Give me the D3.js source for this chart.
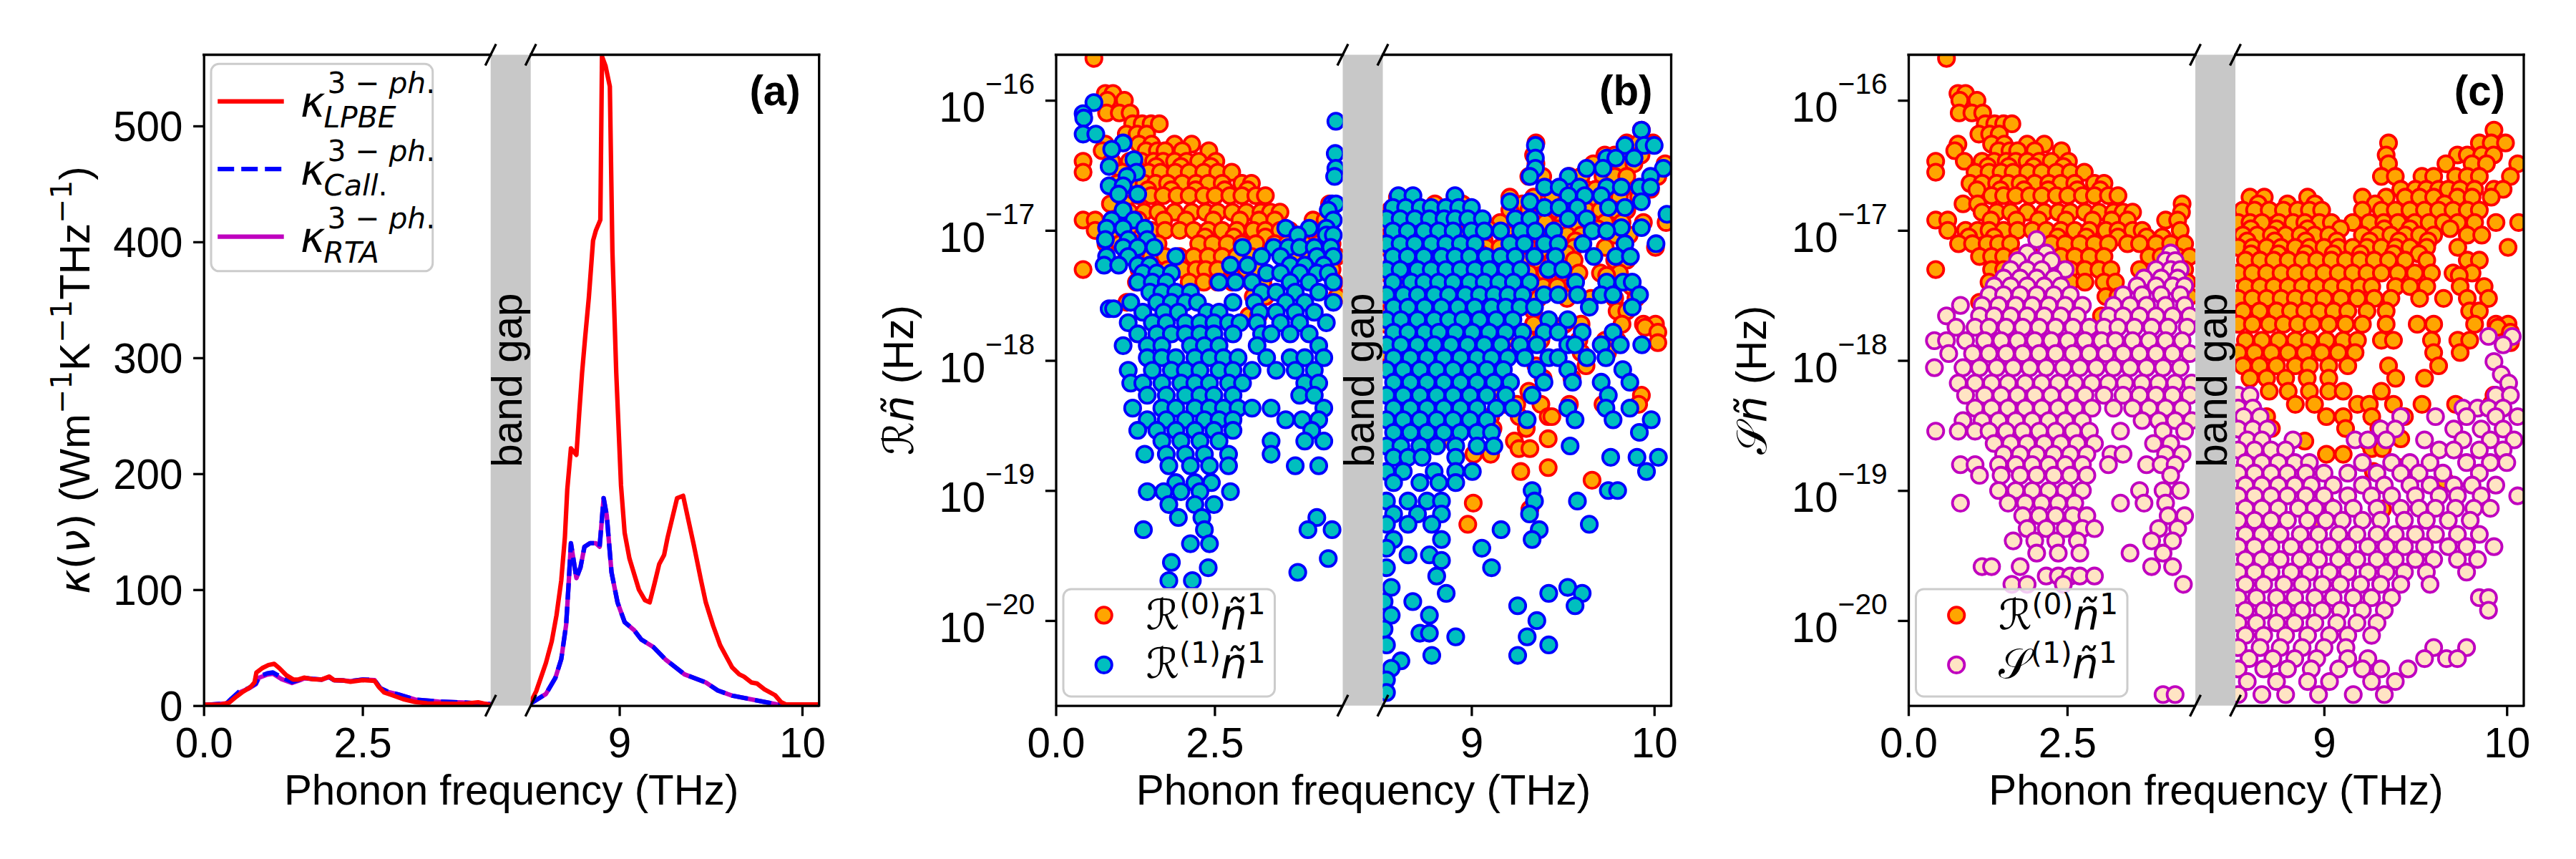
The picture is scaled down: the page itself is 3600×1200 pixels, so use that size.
<!DOCTYPE html>
<html><head><meta charset="utf-8">
<script src="https://cdn.jsdelivr.net/npm/d3@7"></script>
<style>body{margin:0;background:#fff}svg{display:block}</style>
</head><body>
<svg id="fig" width="3600" height="1200"></svg>
<script>
// ---------------- DATA ----------------
// panel (a): spectral thermal conductivity [frequency THz, kappa]
const kLPBE = [[0,0.8],[0.28,1.0],[0.40,2.5],[0.51,7.6],[0.60,11.3],[0.735,15.9],[0.80,20],[0.83,28.6],[0.92,32.3],[1.02,35],[1.11,36],[1.19,32.3],[1.30,26.2],[1.41,22.5],[1.49,22.5],[1.58,24.1],[1.71,22.8],[1.86,22.5],[1.975,25.1],[2.05,22],[2.2,21.6],[2.31,20.6],[2.5,22],[2.69,21.4],[2.76,15.9],[2.84,11.3],[2.95,9.3],[3.14,5.6],[3.33,3.1],[3.52,1.9],[4.08,1.5],[4.32,2.9],[4.47,1.0],[4.55,0.5],
 [8.506,0],[8.545,12.4],[8.598,36.7],[8.630,55.4],[8.656,77.9],[8.682,107.8],[8.702,145.3],[8.715,186.4],[8.735,221.9],[8.765,216.3],[8.781,253.7],[8.796,287],[8.813,318],[8.833,352],[8.856,401],[8.872,410],[8.896,419],[8.905,560],[8.924,552],[8.948,534],[8.962,392],[8.983,287],[9.009,190],[9.029,149],[9.055,127],[9.107,100],[9.140,91],[9.166,89],[9.192,105],[9.218,122],[9.245,130],[9.264,145],[9.316,179],[9.349,181],[9.375,162],[9.408,138],[9.447,108],[9.473,89],[9.513,69],[9.552,52],[9.617,33],[9.656,27],[9.682,25],[9.722,20],[9.754,19],[9.794,14],[9.852,9],[9.885,3],[9.911,1],[10.1,1]];
const kCall = [[0,0.5],[0.36,1.9],[0.435,6],[0.55,11.7],[0.70,14.8],[0.82,19],[0.87,25.1],[1.0,27.8],[1.09,28.6],[1.22,24.5],[1.39,20.4],[1.52,22.5],[1.58,24],[1.71,23],[1.86,22.5],[1.975,24.5],[2.05,22],[2.2,21.6],[2.31,21],[2.5,22.5],[2.69,22],[2.78,15],[2.91,11.7],[3.06,9.7],[3.33,5.2],[3.70,3.5],[4.08,2.7],[4.45,1.5],[4.55,1.2],
 [8.506,1],[8.598,10],[8.650,24],[8.682,40],[8.709,70],[8.722,104],[8.735,140],[8.765,110],[8.787,119],[8.809,137],[8.839,140],[8.872,140],[8.892,137],[8.914,179],[8.931,164],[8.957,115],[8.990,89],[9.029,72],[9.081,65],[9.120,57],[9.186,50.5],[9.251,40],[9.356,27],[9.473,20],[9.539,13],[9.617,8.6],[9.735,5],[9.865,1],[10.1,0.3]];
const kRTA = [[0,0.5],[0.36,1.9],[0.44,5.5],[0.55,11],[0.70,14.5],[0.82,18.5],[0.87,24],[1.0,26.8],[1.09,27.5],[1.22,23],[1.39,19.5],[1.52,22],[1.58,23.5],[1.71,23],[1.86,22.5],[1.975,24.5],[2.05,22],[2.2,21.6],[2.31,21],[2.5,22.5],[2.69,22],[2.78,15],[2.91,11.7],[3.06,9.7],[3.33,5.2],[3.70,3.5],[4.08,2.7],[4.45,1.5],[4.55,1.2],
 [8.506,1],[8.598,10],[8.650,24],[8.682,40],[8.709,70],[8.722,104],[8.735,140],[8.765,110],[8.787,119],[8.809,137],[8.839,140],[8.872,140],[8.892,137],[8.914,179],[8.931,164],[8.957,115],[8.990,89],[9.029,72],[9.081,65],[9.120,57],[9.186,50.5],[9.251,40],[9.356,27],[9.473,20],[9.539,13],[9.617,8.6],[9.735,5],[9.865,1],[10.1,0.3]];

// panels (b),(c): scattering rates, rows of [value Hz, [frequencies THz]]
const R0 = [
[2.1e-16,[0.60]],[1.13e-16,[0.78,0.90]],[1.0e-16,[0.81,1.08]],[8.0e-17,[0.80,1.00,1.17]],[6.6e-17,[1.21,1.36,1.50,1.63]],[5.5e-17,[1.11,1.28,1.43]],
[5.9e-17,[9.93]],[4.7e-17,[9.353,9.85,9.915,9.993]],[4.6e-17,[0.78,1.31,1.51,1.87,2.14]],[4.1e-17,[0.73,1.42,1.60,1.72,1.99,2.41]],
[3.8e-17,[9.34,9.73,9.784,9.863,9.928]],[3.4e-17,[0.43,0.88,1.16,1.35,1.54,1.69,1.87,2.06,2.25,2.52]],[3.25e-17,[9.353,9.667,9.81,9.889,10.06]],
[3.1e-17,[1.25,1.58,1.97,2.44]],
[2.8e-17,[0.43,1.05,1.27,1.46,1.65,1.88,2.10,2.33,2.55,2.77]],[2.6e-17,[9.314,9.39,9.536,9.60,9.72,9.784,9.85,10.02]],
[2.3e-17,[0.97,1.16,1.39,1.57,1.76,1.99,2.21,2.40,2.62,2.93,3.08]],[2.07e-17,[9.42,9.50,9.56,9.627,9.68,9.745,9.824,9.93,9.98]],
[2.05e-17,[1.08,1.45,1.82,2.20,2.66,3.02]],
[1.85e-17,[1.31,1.50,1.69,1.91,2.10,2.33,2.51,2.74,2.93,3.15,3.30]],[1.8e-17,[8.595,8.673,8.91,9.21,9.34,9.444,9.523,9.60,9.73,9.81,9.915]],
[1.6e-17,[0.86,1.09,4.31,8.64,8.80,8.95,9.28,9.66]],[1.43e-17,[8.556,8.62,8.70,8.778,8.856,8.92,8.987,9.21,9.314,9.39,9.47,9.55,9.627,9.706,9.784,9.85]],
[1.38e-17,[1.16,1.39,1.61,1.87,2.14,2.36,2.55,2.78,3.00,3.23,3.38,3.53,4.30]],[1.2e-17,[0.43,0.62,1.30,1.70,2.05,2.48,2.90,3.20,3.45,4.05,4.24]],
[1.15e-17,[8.53,8.595,8.66,8.752,8.83,8.895,8.974,9.04,9.157,9.248,9.327,9.405,9.497,9.575,9.654,9.732,9.824,9.941,10.065]],
[1.03e-17,[8.60,8.74,8.91,9.09,9.33,9.47,9.69]],
[1.0e-17,[0.62,0.90,1.09,1.27,1.50,1.72,1.95,2.17,2.40,2.62,2.85,3.11,3.30,3.53,3.68,4.28]],
[9.2e-18,[8.556,8.634,8.712,8.79,8.87,8.948,9.026,9.21,9.29,9.366,9.444,9.523,9.60,9.784,9.863]],
[8.9e-18,[0.95,1.35,2.35,2.80,3.30,3.75,4.0]],
[8.3e-18,[8.58,8.73,8.90,9.07,9.25,9.41,9.57]],
[7.9e-18,[0.79,1.01,1.24,1.42,1.61,2.25,2.47,2.70,2.93,3.15,3.45,3.64,3.90,4.13,4.35]],
[7.4e-18,[8.53,8.608,8.686,8.765,8.843,8.92,9.0,9.078,9.157,9.235,9.314,9.392,9.47,9.562,9.732,10.007]],
[6.6e-18,[8.60,8.75,8.90,9.05,9.20,9.38,9.52]],
[6.3e-18,[1.12,1.31,1.50,1.72,1.95,2.17,2.40,2.62,2.85,3.08,3.79,3.98,4.24,4.43]],
[5.9e-18,[8.57,8.65,8.725,8.804,8.882,8.96,9.04,9.118,9.196,9.275,9.353,9.444,9.562,9.784,9.85]],
[5.0e-18,[0.43,1.31,1.50,1.76,1.99,2.21,2.36,2.55,2.78,3.00,3.19,3.64,4.35]],
[4.7e-18,[8.53,8.608,8.686,8.765,8.843,8.92,9.0,9.078,9.157,9.235,9.314,9.405,9.497,9.588,9.706,9.81]],
[4.5e-18,[9.74]],[4.0e-18,[1.27,2.10,2.33,2.55,2.78,3.08,3.26,4.39]],
[3.7e-18,[8.57,8.65,8.725,8.804,8.882,8.96,9.04,9.118,9.196,9.261,9.392,9.47,9.562,9.745,9.876]],[3.1e-18,[3.11,3.30,4.43]],
[3.0e-18,[8.53,8.608,8.686,8.765,8.843,8.92,9.0,9.092,9.183,9.275,9.366,9.523,9.654,9.784,9.90]],[2.8e-18,[1.12]],
[2.4e-18,[8.556,8.647,8.74,8.817,8.895,8.974,9.052,9.13,9.235,9.34,9.797,9.85]],[2.2e-18,[3.04,3.19]],
[1.9e-18,[8.53,8.608,8.70,8.778,8.856,8.935,9.026,9.118,9.21,9.34,9.51,9.60,9.824,9.941,10.007]],[1.8e-18,[9.95]],[1.65e-18,[10.02]],
[1.43e-18,[8.57,8.66,8.752,8.843,8.92,9.013,9.105,9.183,9.314,9.38,9.588,9.732,9.797]],[1.37e-18,[10.02]],
[1.15e-18,[8.53,8.62,8.712,8.804,8.895,8.987,9.078,9.17,9.60,9.745]],[9.1e-19,[8.556,8.647,8.74,8.843,8.92,9.026,9.13,9.353,9.627]],
[7.3e-19,[8.595,8.686,8.79,8.908,9.026,9.392,9.55]],[5.8e-19,[8.70,8.804,8.92,9.026,9.105,9.314]],[5.4e-19,[9.93]],
[4.6e-19,[8.843,8.948,9.183,9.248,9.38,9.536,9.72,9.915]],[3.7e-19,[8.686,9.013,9.105,9.261,9.42,9.44]],[3.0e-19,[8.712,9.118,9.30]],
[2.5e-19,[9.42]],[2.4e-19,[8.895,9.235]],[2.1e-19,[9.26,9.32]],[1.9e-19,[9.013,9.105]],[1.5e-19,[9.42]],[1.4e-19,[9.27]],[1.2e-19,[9.66]],
[8.0e-20,[9.01]],[7.2e-20,[9.32]],[5.5e-20,[8.98]]];

const R1 = [
[9.6e-17,[0.60]],[7.9e-17,[0.43]],[7.3e-17,[0.44]],[6.9e-17,[4.41]],[5.9e-17,[9.93]],[5.5e-17,[0.43,0.63]],[4.7e-17,[1.06]],
[4.5e-17,[9.35,9.84,9.945,10.0]],[4.2e-17,[0.88]],[3.9e-17,[4.40]],[3.6e-17,[9.35,9.74,9.79,9.89]],[3.5e-17,[1.23]],[3.1e-17,[0.84]],
[3.0e-17,[4.41,9.35,9.63,9.72,10.05]],[2.8e-17,[1.27]],[2.6e-17,[1.12,4.39,9.32,9.53,9.98]],[2.2e-17,[0.84,1.06]],
[2.15e-17,[9.40,9.48,9.59,9.74,9.82,9.92,9.98]],[1.9e-17,[0.99,1.29]],[1.85e-17,[8.60,8.68,8.91,9.53,9.62,9.71]],
[1.66e-17,[9.21,9.32,9.93]],[1.6e-17,[4.35,4.41]],[1.5e-17,[8.57,8.64,8.72,8.78,8.86,8.93,9.0,9.40,9.48,9.58,9.75,9.84]],
[1.43e-17,[1.06,4.29]],[1.33e-17,[10.07]],[1.23e-17,[8.535,8.61,8.69,8.77,8.85,8.91,8.98,9.06,9.24,9.32,9.53,9.63]],
[1.2e-17,[0.88,1.23,4.37]],[1.05e-17,[9.82,9.93]],[1.04e-17,[0.80,1.06,1.40,3.62,3.99,4.26]],
[9.9e-18,[8.57,8.65,8.74,8.82,8.90,9.0,9.07,9.16,9.27,9.35,9.45,9.66,9.74]],[9.2e-18,[3.81,4.26,4.37]],[8.5e-18,[0.78,1.14,1.44]],
[7.9e-18,[8.535,8.61,8.69,8.78,8.86,8.94,9.02,9.21,9.29,9.40,9.475,9.61,9.84,10.01]],
[7.4e-18,[1.06,1.29,1.55,2.94,3.43,3.66,3.84,4.07,4.33]],
[6.3e-18,[0.80,1.14,1.89,3.24,3.54,4.11,4.37,8.57,8.65,8.74,8.836,8.91,8.99,9.08,9.16,9.24,9.345,9.46,9.67,9.79,9.87]],
[5.4e-18,[0.76,0.99,1.29,1.48,2.75,3.02,3.69,3.92,4.22]],
[5.0e-18,[8.535,8.61,8.705,8.78,8.86,8.94,9.02,9.10,9.19,9.27,9.42,9.50]],
[4.7e-18,[1.37,1.59,1.82,3.32,3.54,3.84,4.11,4.29]],
[4.0e-18,[1.29,1.52,1.74,2.57,2.83,3.09,3.69,3.99,4.37,8.57,8.67,8.74,8.82,8.90,8.99,9.07,9.15,9.23,9.32,9.57,9.74,9.83,9.88]],
[3.35e-18,[1.48,1.67,1.89,2.12,3.24,3.47,3.77,4.14]],
[3.2e-18,[8.535,8.627,8.705,8.796,8.875,8.966,9.044,9.123,9.20,9.28,9.397,9.475,9.58,9.71,9.775,9.92]],
[2.8e-18,[1.18,1.59,1.82,2.04,2.23,2.79,3.13,3.62,3.92,4.37]],
[2.57e-18,[8.574,8.653,8.744,8.836,8.927,9.018,9.11,9.188,9.266,9.345,9.645,9.88]],[2.5e-18,[0.84,0.91]],
[2.35e-18,[1.37,1.70,1.93,2.38,2.57,3.21,3.47,3.77,4.07]],
[2.06e-18,[8.535,8.614,8.705,8.796,8.875,8.953,9.044,9.136,9.227,9.423,9.527]],
[1.95e-18,[1.14,1.52,1.74,2.04,2.27,2.49,2.72,2.90,3.17,3.54,3.84,4.26]],
[1.65e-18,[8.574,8.653,8.744,8.822,8.914,9.005,9.097,9.188,9.28,9.397,9.475,9.606,9.775]],
[1.6e-18,[1.29,1.59,1.82,2.04,2.27,2.49,2.79,3.24,3.39,3.69,3.99]],
[1.32e-18,[8.535,8.614,8.705,8.796,8.888,8.979,9.07,9.162,9.266,9.358,9.527,9.567,9.71,9.815,9.932]],
[1.3e-18,[1.06,1.44,1.67,2.12,2.34,2.57,3.17,4.14]],
[1.05e-18,[1.44,1.67,1.89,2.19,2.42,2.64,2.87,3.32,3.69,3.92,4.22,8.574,8.666,8.757,8.849,8.94,9.031,9.11,9.20,9.292,9.423,9.475,9.632,9.736]],
[8.5e-19,[8.535,8.627,8.718,8.81,8.90,8.992,9.084,9.175,9.358,9.527,9.828]],
[8.4e-19,[1.14,1.52,1.82,2.04,2.27,2.57,2.79,3.09,3.47,3.77,4.07]],
[6.8e-19,[8.574,8.666,8.757,8.849,8.94,9.031,9.123,9.214,9.397,9.553,9.71,9.867]],
[6.7e-19,[1.18,1.37,1.67,1.97,2.19,2.42,2.72,2.94,3.92,4.14]],
[5.4e-19,[1.44,1.74,2.04,2.27,2.49,2.79,3.84,4.07,8.535,8.627,8.718,8.81,8.90,8.992,9.084,9.188,9.332,9.749]],
[4.3e-19,[1.21,1.67,1.89,2.19,2.42,2.64,2.87,3.09,3.39,4.22,8.574,8.666,8.757,8.849,8.94,9.031,9.136,9.227,9.527,9.736,9.867]],
[3.5e-19,[1.44,1.74,2.04,2.34,2.57,2.79,3.62,3.88,4.14,8.535,8.627,8.718,8.81,8.90,8.992,9.084,9.305,9.567,9.775,9.984]],
[2.9e-19,[1.29,1.59,1.89,2.19,2.49,2.79,4.03]],[2.8e-19,[8.574,8.666,8.757,8.849,8.94,9.031,9.11,9.919]],
[2.4e-19,[1.67,1.97,2.27,2.57,3.39,3.92,4.22]],[2.2e-19,[8.535,8.614,8.718,8.81,8.914,9.031,9.123,9.54]],
[1.9e-19,[1.40,1.74,2.04,2.34,2.72,3.39]],[1.8e-19,[8.574,8.653,8.73,8.914,9.762,9.906,10.023]],
[1.55e-19,[1.78,2.12,2.42,2.72,3.77,4.14]],[1.4e-19,[8.535,8.627,8.796,8.914,9.005,9.958]],
[1.15e-19,[1.89,2.19,2.45,8.574,8.718,8.822,8.914]],[1.0e-19,[9.332,9.749,9.80]],[9.8e-20,[1.44,1.70,1.97,2.27,2.75]],
[8.3e-20,[8.535,8.653,8.757,8.836,9.345,9.58]],[7.8e-20,[1.78,2.19,2.49]],[6.6e-20,[8.574,8.705,8.836,9.318]],
[6.2e-20,[1.93,2.30,4.11]],[5.5e-20,[8.535,8.653,8.783,9.645]],[5.0e-20,[1.38,2.34,3.97,4.35,9.162,9.371]],
[4.2e-20,[8.574,8.836,9.332]],[3.9e-20,[2.12,2.42]],[3.6e-20,[8.535,9.057]],[3.2e-20,[8.653,8.77]],[3.0e-20,[4.29]],
[2.9e-20,[8.836]],[2.8e-20,[1.82]],[2.55e-20,[2.40,8.535,9.11]],[2.35e-20,[3.81]],[2.2e-20,[8.81]],[2.03e-20,[1.78,2.15]],
[1.8e-20,[8.561,9.527]],[1.62e-20,[8.862,9.423,9.606]],[1.4e-20,[8.522,8.679]],[1.3e-20,[9.253,9.567]],[1.1e-20,[8.561,8.77]],
[1.0e-20,[9.358]],[8.6e-21,[8.522]],[8.0e-21,[8.718,8.77]],[7.5e-21,[8.914,9.305]],[6.5e-21,[8.535,9.423]],[5.4e-21,[8.783,9.253]],
[4.9e-21,[8.614]],[4.3e-21,[8.561]],[3.5e-21,[8.535]],[2.8e-21,[8.535]]];

const S1 = [
[8.5e-18,[2.02]],[6.7e-18,[1.87,2.17,4.13]],[5.85e-18,[1.72,2.02,2.25,4.05,4.20]],[5.0e-18,[1.61,1.87,2.10,2.47,3.90,4.13,4.28]],
[4.3e-18,[1.50,1.76,2.02,2.29,3.71,3.98,4.24]],[3.74e-18,[1.35,1.61,1.87,2.14,2.40,3.60,3.90,4.16,4.35]],
[3.2e-18,[1.27,1.50,1.76,2.02,2.29,2.55,3.38,3.68,3.98,4.28]],
[2.65e-18,[0.82,1.16,1.42,1.69,1.95,2.21,2.47,2.74,3.23,3.49,3.75,4.05,4.35]],
[2.2e-18,[0.60,1.12,1.35,1.61,1.87,2.14,2.40,2.66,3.15,3.38,3.64,3.90,4.16,4.43]],
[1.8e-18,[0.75,1.05,1.27,1.54,1.80,2.06,2.32,2.59,2.85,3.08,3.30,3.56,3.83,4.09,4.39]],
[1.53e-18,[9.90,10.03]],
[1.42e-18,[0.41,0.60,0.90,1.20,1.46,1.72,1.99,2.25,2.51,2.78,3.04,3.26,3.53,3.79,4.05,4.31]],[1.32e-18,[9.98]],
[1.13e-18,[0.635,1.01,1.27,1.54,1.80,2.06,2.32,2.59,2.85,3.11,3.38,3.64,3.90,4.16,4.43]],[9.8e-19,[9.93]],
[8.8e-19,[0.41,0.86,1.12,1.39,1.65,1.91,2.17,2.44,2.70,2.96,3.23,3.49,3.75,4.01,4.28]],[7.8e-19,[9.97]],
[6.7e-19,[0.785,1.05,1.31,1.57,1.84,2.10,2.36,2.62,2.89,3.15,3.41,3.68,3.94,4.20,4.46,10.01]],
[5.4e-19,[0.90,1.20,1.46,1.72,1.99,2.25,2.51,2.78,3.08,3.38,3.64,3.90,4.16,4.43,8.53,8.595,9.94,10.02]],
[4.3e-19,[1.05,1.31,1.57,1.84,2.10,2.36,2.62,2.89,3.23,3.53,3.79,4.05,4.31,8.53,8.61,9.76,9.84,9.90,9.98]],
[3.7e-19,[8.56,8.65,9.42,9.61,9.78,9.94,10.06]],
[3.45e-19,[0.86,1.16,1.42,1.69,1.95,2.21,2.47,2.74,3.68,3.94,4.20,4.46]],
[2.97e-19,[8.53,8.61,8.69,9.31,9.39,9.71,9.86,9.98]],
[2.86e-19,[0.43,0.785,1.05,1.27,1.54,1.80,2.06,2.32,2.59,2.85,3.34,4.01,4.35]],
[2.45e-19,[8.58,8.66,8.83,9.17,9.24,9.34,9.55,9.76,9.91,10.04]],
[2.3e-19,[1.35,1.61,1.87,2.14,2.40,2.66,2.93,3.86,4.13]],
[2.05e-19,[8.53,8.62,8.71,8.79,9.63,9.71,9.85,9.98]],
[1.9e-19,[1.50,1.76,2.02,2.29,2.55,2.81,3.19,3.38,4.05,4.31]],
[1.64e-19,[8.57,8.66,8.75,8.84,8.92,9.21,9.37,9.47,9.58,9.78,9.91,10.0]],
[1.58e-19,[0.82,1.05,1.42,1.69,1.95,2.21,2.47,2.74,3.15,3.75,3.98,4.20]],
[1.36e-19,[8.53,8.62,8.71,8.80,8.90,9.0,9.13,9.29,9.42,9.52,9.65,9.85]],
[1.31e-19,[1.12,1.46,1.76,2.02,2.29,2.55,2.81,4.13]],
[1.1e-19,[8.57,8.66,8.75,8.84,8.93,9.05,9.21,9.33,9.47,9.58,9.71,9.81,9.94]],
[1.0e-19,[1.42,1.69,1.95,2.21,2.47,2.74,3.64,4.01,4.28]],
[9.1e-20,[8.53,8.62,8.71,8.80,8.90,9.0,9.13,9.26,9.37,9.50,9.63,9.73,9.86,10.06]],
[8.0e-20,[0.82,1.57,1.84,2.10,2.36,2.62,3.34,3.71,4.05]],
[7.3e-20,[8.57,8.66,8.75,8.86,8.95,9.05,9.16,9.29,9.42,9.52,9.61,9.72,9.82,9.91]],
[6.4e-20,[1.80,2.06,2.32,2.59,2.81,4.09,4.35]],
[5.9e-20,[8.53,8.62,8.71,8.80,8.91,9.01,9.10,9.21,9.31,9.44,9.56,9.68,9.80]],
[5.1e-20,[1.87,2.17,2.47,2.74,2.93,3.94,4.24]],
[4.6e-20,[8.57,8.66,8.76,8.87,8.97,9.08,9.18,9.29,9.39,9.50,9.61,9.73,9.85]],
[4.1e-20,[1.65,1.99,2.32,2.66,3.83,4.16]],
[3.7e-20,[8.53,8.62,8.71,8.82,8.92,9.03,9.13,9.24,9.34,9.44,9.55,9.68,9.78,9.93]],
[3.3e-20,[2.02,2.36,2.70,3.49,4.01]],
[2.95e-20,[8.57,8.66,8.76,8.87,8.97,9.08,9.18,9.29,9.39,9.50,9.60,9.73,9.84]],
[2.6e-20,[1.16,1.31,1.76,3.83,4.16]],
[2.36e-20,[8.53,8.62,8.71,8.82,8.92,9.03,9.13,9.24,9.34,9.44,9.56,9.78]],
[2.2e-20,[2.17,2.36,2.55,2.70,2.93]],
[1.9e-20,[1.63,1.87,2.44,4.33,8.57,8.67,8.78,8.88,8.99,9.09,9.20,9.31,9.42,9.58]],
[1.5e-20,[8.53,8.63,8.74,8.84,8.95,9.05,9.16,9.26,9.37,9.85,9.90]],
[1.2e-20,[8.57,8.67,8.78,8.88,8.99,9.09,9.21,9.33,9.90]],
[9.6e-21,[8.53,8.63,8.74,8.84,8.95,9.07,9.18,9.29]],
[7.7e-21,[8.57,8.67,8.79,8.91,9.03,9.13,9.26]],
[6.2e-21,[8.53,8.65,8.76,8.88,9.0,9.12,9.60,9.78]],
[5.1e-21,[8.59,8.72,8.84,8.96,9.13,9.24,9.55,9.67,9.73]],
[4.25e-21,[8.53,8.67,8.80,8.93,9.08,9.21,9.31,9.46]],
[3.4e-21,[8.58,8.74,8.91,9.03,9.26,9.39]],
[2.7e-21,[4.01,4.20,8.53,8.66,8.79,8.97,9.16,9.33]]];

// axis limits and ticks
const xDomLeft = [0, 4.518], xDomRight = [8.515, 10.093];
const yDomA = [0, 561.4], yDomLog = [2.22e-21, 2.24e-16];
const xTicksLeft = [0, 2.5], xTicksRight = [9, 10];
const yTicksA = [0, 100, 200, 300, 400, 500];
const yTicksLog = [1e-16, 1e-17, 1e-18, 1e-19, 1e-20];
const panelLetters = ['(a)', '(b)', '(c)'];
const legendASub = ['LPBE', 'Call.', 'RTA'];
const legendASup = '3 − ph.';
const xLabel = 'Phonon frequency (THz)';
const gapLabel = 'band gap';

// ---------------- LAYOUT / STYLE ----------------
const SANS = "'Liberation Sans', Arial, Helvetica, sans-serif";
const MATH = "'DejaVu Sans', sans-serif";
const FS = 58.33, FSS = 40.8, TL = 14.6, SW = 3.3, LWID = 6.25, MR = 11.2, MSW = 3.8;
const TOP = 76.5, BOT = 985.7, LW = 401, GW = 457, TW = 860;
const X0 = [284.7, 1475.5, 2667];
const C = {red:'#ff0000', blue:'#0000ff', mag:'#bf00bf', orange:'#ffa500', cyan:'#00bfbf', bisque:'#ffe4c4', gray:'#c8c8c8', edge:'#cccccc'};

const svg = d3.select('#fig');
svg.append('rect').attr('width', 3600).attr('height', 1200).attr('fill', '#fff');
const defs = svg.append('defs');

function makePanel(i, y) {
  const x0 = X0[i];
  const g = svg.append('g');
  const P = {i, x0, g, y,
    xL: d3.scaleLinear().domain(xDomLeft).range([x0, x0 + LW]),
    xR: d3.scaleLinear().domain(xDomRight).range([x0 + GW, x0 + TW])};
  [['L', x0, LW], ['R', x0 + GW, TW - GW]].forEach(([s, xx, w]) => {
    defs.append('clipPath').attr('id', `clip${i}${s}`).append('rect')
      .attr('x', xx).attr('y', TOP).attr('width', w).attr('height', BOT - TOP);
  });
  g.append('rect').attr('x', x0 + LW).attr('y', TOP).attr('width', GW - LW).attr('height', BOT - TOP).attr('fill', C.gray);
  P.dL = g.append('g').attr('clip-path', `url(#clip${i}L)`);
  P.dR = g.append('g').attr('clip-path', `url(#clip${i}R)`);
  return P;
}
function halves(P, pts) {
  return [[P.dL, P.xL, pts.filter(d => d[0] < 6)], [P.dR, P.xR, pts.filter(d => d[0] >= 6)]];
}
function drawLine(P, pts, color, dash) {
  halves(P, pts).forEach(([layer, x, data]) => {
    layer.append('path').datum(data)
      .attr('d', d3.line().x(d => x(d[0])).y(d => P.y(d[1])))
      .attr('fill', 'none').attr('stroke', color).attr('stroke-width', LWID)
      .attr('stroke-linejoin', 'round').attr('stroke-dasharray', dash || null);
  });
}
function flatten(rows) { return rows.flatMap(([v, fs]) => fs.map(f => [f, v])); }
function scatter(P, rows, fill, stroke) {
  halves(P, flatten(rows)).forEach(([layer, x, data]) => {
    layer.append('g').selectAll('circle').data(data).join('circle')
      .attr('cx', d => x(d[0])).attr('cy', d => P.y(d[1])).attr('r', MR)
      .attr('fill', fill).attr('stroke', stroke).attr('stroke-width', MSW);
  });
}
function styleAxis(sel) {
  sel.attr('font-family', null).attr('font-size', null);
  sel.selectAll('.domain').attr('stroke', '#000').attr('stroke-width', SW);
  sel.selectAll('.tick line').attr('stroke', '#000').attr('stroke-width', SW);
  sel.selectAll('.tick text').attr('font-family', SANS).attr('font-size', FS).attr('fill', '#000');
}
function mathSpans(sel, str, fam) {
  str.match(/[A-Za-z]+|[^A-Za-z]+/g).forEach(s =>
    sel.append('tspan').attr('font-family', fam || MATH).attr('font-style', /[A-Za-z]/.test(s) ? 'italic' : 'normal').text(s));
}
function finishPanel(P, isLog) {
  const {g, x0} = P;
  const ax = g.append('g');
  styleAxis(ax.append('g').attr('transform', `translate(0,${BOT})`)
    .call(d3.axisBottom(P.xL).tickValues(xTicksLeft).tickFormat(d3.format('.1f')).tickSize(TL).tickSizeOuter(0).tickPadding(16.3)));
  styleAxis(ax.append('g').attr('transform', `translate(0,${BOT})`)
    .call(d3.axisBottom(P.xR).tickValues(xTicksRight).tickFormat(d3.format('d')).tickSize(TL).tickSizeOuter(0).tickPadding(16.3)));
  const yAx = ax.append('g').attr('transform', `translate(${x0},0)`)
    .call(d3.axisLeft(P.y).tickValues(isLog ? yTicksLog : yTicksA).tickSize(TL).tickSizeOuter(0).tickPadding(TL)
      .tickFormat(isLog ? () => '' : d3.format('d')));
  styleAxis(yAx);
  if (!isLog) yAx.selectAll('.tick text').attr('dy', '0.36em');
  else {
    yAx.selectAll('.tick text').remove();
    yTicksLog.forEach(v => {
      const e = Math.round(Math.log10(v));
      const t = ax.append('text').attr('x', x0 - 2 * TL).attr('y', P.y(v) + 30).attr('text-anchor', 'end')
        .attr('font-family', SANS).attr('font-size', FS);
      t.append('tspan').text('10');
      t.append('tspan').attr('font-size', FSS).attr('dy', -39).text('\u2212' + Math.abs(e));
    });
  }
  const ln = (x1, y1, x2, y2) => ax.append('line').attr('x1', x1).attr('y1', y1).attr('x2', x2).attr('y2', y2)
    .attr('stroke', '#000').attr('stroke-width', SW).attr('stroke-linecap', 'square');
  ln(x0, TOP, x0 + LW, TOP);
  ln(x0 + GW, TOP, x0 + TW, TOP);
  ln(x0 + TW, TOP, x0 + TW, BOT);
  [x0 + LW, x0 + GW].forEach(xb => [TOP, BOT].forEach(yb =>
    ax.append('line').attr('x1', xb - 7.5).attr('y1', yb + 15).attr('x2', xb + 7.5).attr('y2', yb - 15)
      .attr('stroke', '#000').attr('stroke-width', SW)));
  ax.append('text').attr('transform', `translate(${x0 + 444.5},${(TOP + BOT) / 2}) rotate(-90)`)
    .attr('text-anchor', 'middle').attr('font-family', SANS).attr('font-size', FS).text(gapLabel);
  ax.append('text').attr('x', x0 + 430).attr('y', 1124).attr('text-anchor', 'middle')
    .attr('font-family', SANS).attr('font-size', FS).text(xLabel);
  ax.append('text').attr('x', x0 + 834).attr('y', 147).attr('text-anchor', 'end').attr('font-weight', 'bold')
    .attr('font-family', SANS).attr('font-size', FS).text(panelLetters[P.i]);
}
function yLabel(P, dx, parts) {
  const t = P.g.append('text').attr('transform', `translate(${P.x0 + dx},${(TOP + BOT) / 2}) rotate(-90)`)
    .attr('text-anchor', 'middle').attr('font-size', FS);
  let up = false;
  parts.forEach(([s, fam, style]) => {
    const sp = t.append('tspan').attr('font-family', fam).attr('font-style', style === 'i' ? 'italic' : 'normal').text(s);
    if (style === 's') { sp.attr('font-size', FSS).attr('dy', -25.5); up = true; }
    else if (up) { sp.attr('dy', 25.5); up = false; }
  });
}
function legendBC(P, entries) {
  const x0 = P.x0, g = P.g.append('g');
  g.append('rect').attr('x', x0 + 10.5).attr('y', 823).attr('width', 295.5).attr('height', 150).attr('rx', 11)
    .attr('fill', '#fff').attr('fill-opacity', 0.8).attr('stroke', C.edge).attr('stroke-width', 3);
  entries.forEach((e, i) => {
    const cy = [859.4, 928.8][i], yb = [878.5, 947][i];
    g.append('circle').attr('cx', x0 + 67.2).attr('cy', cy).attr('r', MR).attr('fill', e.fill).attr('stroke', e.stroke).attr('stroke-width', MSW);
    const t = g.append('text').attr('x', x0 + 126).attr('y', yb).attr('font-family', MATH).attr('font-size', FS);
    t.append('tspan').text(e.sym);
    t.append('tspan').attr('font-size', FSS).attr('dy', -21).text(e.order);
    t.append('tspan').attr('font-style', 'italic').attr('dy', 21).text('ñ');
    t.append('tspan').attr('font-size', FSS).attr('dy', -21).text('1');
  });
}

// ---------------- PANEL (a) ----------------
const A = makePanel(0, d3.scaleLinear().domain(yDomA).range([BOT, TOP]));
drawLine(A, kRTA, C.mag);
drawLine(A, kCall, C.blue, '23,10');
drawLine(A, kLPBE, C.red);
finishPanel(A, false);
yLabel(A, -159.7, [['κ', MATH, 'i'], ['(', MATH], ['ν', MATH, 'i'], [')', MATH], [' (Wm', SANS], ['\u22121', MATH, 's'],
  ['K', SANS], ['\u22121', MATH, 's'], ['THz', SANS], ['\u22121', MATH, 's'], [')', SANS]]);
(function legendA() {
  const x0 = A.x0, g = A.g.append('g');
  g.append('rect').attr('x', x0 + 10.3).attr('y', 89.3).attr('width', 309.7).attr('height', 289.5).attr('rx', 11)
    .attr('fill', '#fff').attr('fill-opacity', 0.8).attr('stroke', C.edge).attr('stroke-width', 3);
  const styles = [[C.red, null], [C.blue, '23,10'], [C.mag, null]];
  legendASub.forEach((sub, i) => {
    const yh = 141.7 + 94.5 * i, yb = yh + 21.5, xk = x0 + 135.3;
    g.append('line').attr('x1', x0 + 19.5).attr('x2', x0 + 112).attr('y1', yh).attr('y2', yh)
      .attr('stroke', styles[i][0]).attr('stroke-width', LWID).attr('stroke-dasharray', styles[i][1]);
    const k = g.append('text').attr('x', xk).attr('y', yb).attr('font-family', MATH).attr('font-style', 'italic').attr('font-size', FS).text('κ');
    const w = k.node().getComputedTextLength();
    mathSpans(g.append('text').attr('x', xk + w + 3).attr('y', yb - 33).attr('font-size', FSS), legendASup);
    mathSpans(g.append('text').attr('x', xk + w - 2).attr('y', yb + 15).attr('font-size', FSS), sub);
  });
})();

// ---------------- PANEL (b) ----------------
const B = makePanel(1, d3.scaleLog().domain(yDomLog).range([BOT, TOP]));
scatter(B, R0, C.orange, C.red);
scatter(B, R1, C.cyan, C.blue);
finishPanel(B, true);
yLabel(B, -199.5, [['ℛ', MATH], ['ñ', MATH, 'i'], [' (Hz)', SANS]]);
legendBC(B, [{fill: C.orange, stroke: C.red, sym: 'ℛ', order: '(0)'}, {fill: C.cyan, stroke: C.blue, sym: 'ℛ', order: '(1)'}]);

// ---------------- PANEL (c) ----------------
const Cp = makePanel(2, d3.scaleLog().domain(yDomLog).range([BOT, TOP]));
scatter(Cp, R0, C.orange, C.red);
scatter(Cp, S1, C.bisque, C.mag);
finishPanel(Cp, true);
yLabel(Cp, -199, [['𝒮', MATH], ['ñ', MATH, 'i'], [' (Hz)', SANS]]);
legendBC(Cp, [{fill: C.orange, stroke: C.red, sym: 'ℛ', order: '(0)'}, {fill: C.bisque, stroke: C.mag, sym: '𝒮', order: '(1)'}]);
</script>
</body></html>
